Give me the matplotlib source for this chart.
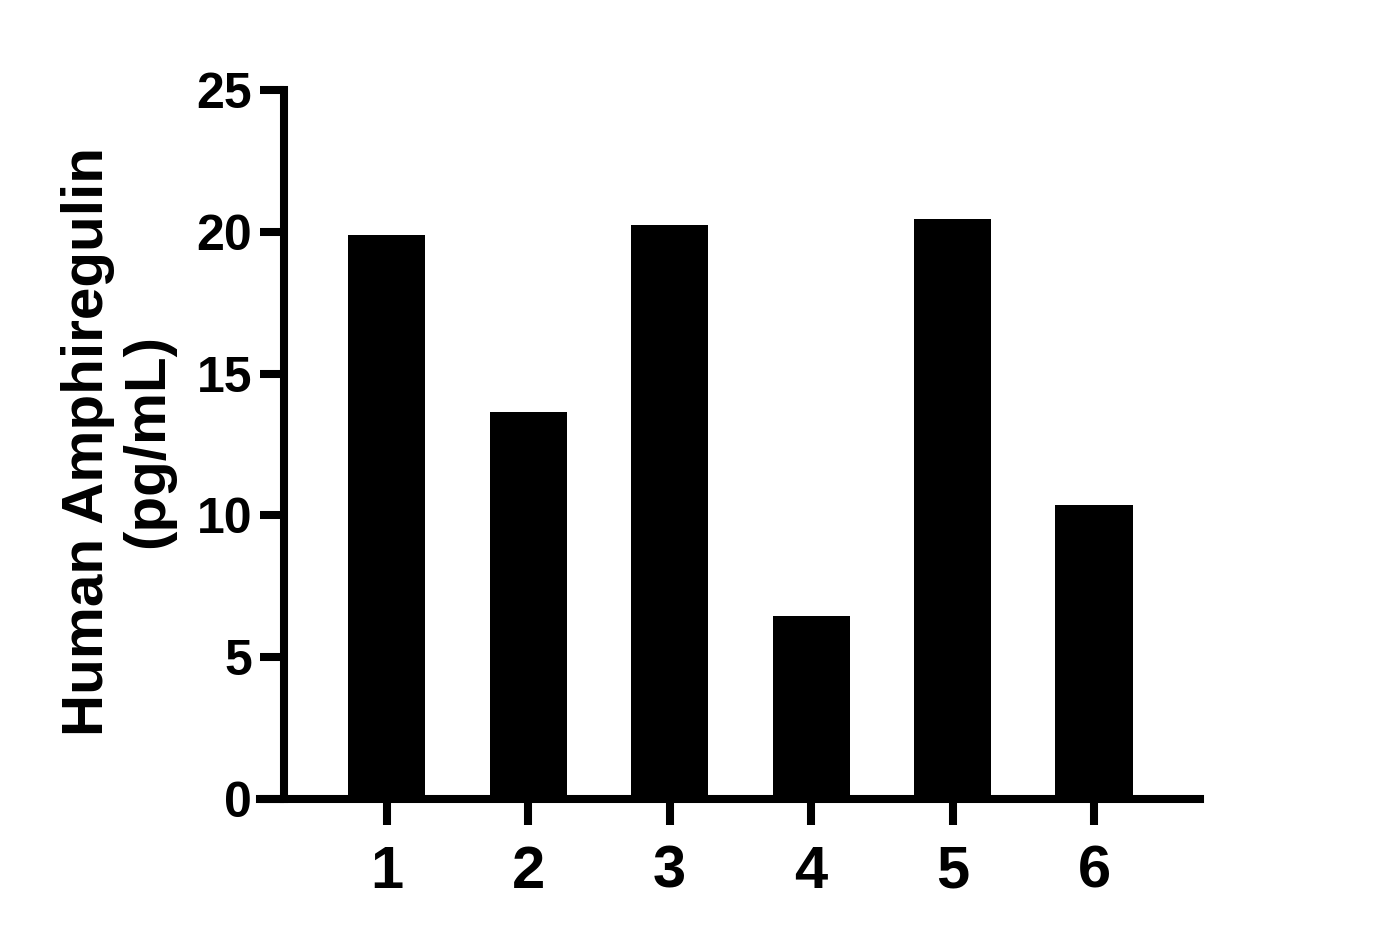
import numpy as np
import matplotlib
matplotlib.use("Agg")
import matplotlib.pyplot as plt

# Data
samples = ['1', '2', '3', '4', '5', '6']
amphiregulin = [19.9, 13.65, 20.25, 6.45, 20.45, 10.35]

plt.rcParams['font.family'] = ['Liberation Sans', 'DejaVu Sans']
plt.rcParams['font.weight'] = 'bold'

fig = plt.figure(figsize=(13.77, 9.39), dpi=100)
ax = fig.add_axes([0.2062, 0.1491, 0.6653, 0.7551])

x = np.arange(1, len(samples) + 1)
ax.bar(x, amphiregulin, width=0.545, color='black', edgecolor='black', linewidth=0)

ax.set_xlim(0.272, 6.75)
ax.set_ylim(0, 25)
ax.set_yticks([0, 5, 10, 15, 20, 25])
ax.set_xticks(x)
ax.set_xticklabels(samples)

for side in ['top', 'right']:
    ax.spines[side].set_visible(False)
for side in ['left', 'bottom']:
    ax.spines[side].set_linewidth(5.8)
    ax.spines[side].set_capstyle('projecting')
ax.spines['bottom'].set_bounds(0.272 - 0.17, 6.75)

ax.tick_params(axis='y', length=17, width=5.8, labelsize=36, pad=6)
ax.tick_params(axis='x', length=19, width=5.8, labelsize=43, pad=14)
for lab in ax.get_xticklabels() + ax.get_yticklabels():
    lab.set_fontweight('bold')

fig.text(118 / 1377, 1 - 441 / 939, 'Human Amphiregulin\n(pg/mL)',
         rotation=90, ha='center', va='center', multialignment='center',
         fontsize=42, fontweight='bold', linespacing=1.15)

fig.savefig('out.png', dpi=100)
